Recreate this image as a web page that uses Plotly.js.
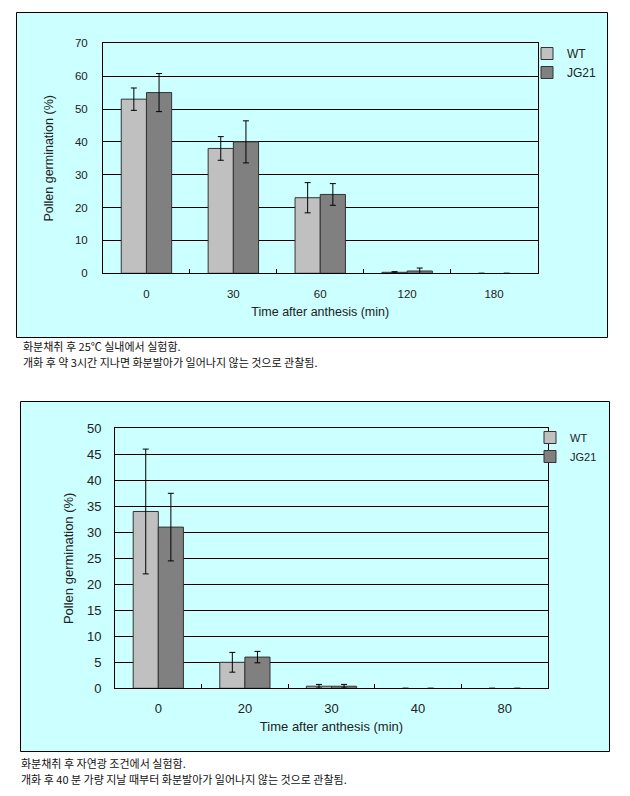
<!DOCTYPE html>
<html>
<head>
<meta charset="utf-8">
<script src="https://cdn.plot.ly/plotly-3.0.1.min.js"></script>
<style>
  html, body { margin: 0; padding: 0; background: #ffffff; }
  #chart { width: 630px; height: 796px; }
</style>
</head>
<body>
<div id="chart"></div>
<script>
// ---- Data ----
const topCats = ['0', '30', '60', '120', '180'];
const topWT = [53, 38, 23, 0.3, 0];
const topWTerr = [3.4, 3.6, 4.6, 0.2, 0];
const topJG = [55, 40, 24, 0.7, 0];
const topJGerr = [5.8, 6.4, 3.3, 0.9, 0];

const botCats = ['0', '20', '30', '40', '80'];
const botWT = [34, 5, 0.4, 0, 0];
const botWTerr = [12, 1.9, 0.35, 0, 0];
const botJG = [31, 6, 0.4, 0, 0];
const botJGerr = [6.5, 1.1, 0.35, 0, 0];

const seriesNames = ['WT', 'JG21'];
const xTitle = 'Time after anthesis (min)';
const yTitle = 'Pollen germination (%)';
const captionTop = ['화분채취 후 25℃ 실내에서 실험함.', '개화 후 약 3시간 지나면 화분발아가 일어나지 않는 것으로 관찰됨.'];
const captionBot = ['화분채취 후 자연광 조건에서 실험함.', '개화 후 40 분 가량 지날 때부터 화분발아가 일어나지 않는 것으로 관찰됨.'];

// ---- Styling ----
const W = 630, H = 796;
const px = v => v / W;
const py = v => 1 - v / H;
const colWT = '#c0c0c0', colJG = '#808080';
const lineCol = '#333333';
const latin = 'Liberation Sans, Arial, sans-serif';
const tickFont = {family: latin, size: 11.5, color: '#222'};
const tickFont2 = {family: latin, size: 13, color: '#222'};

function barTrace(name, cats, vals, errs, color, xa, ya, legend) {
  return {
    type: 'bar', name: name, x: cats, y: vals,
    xaxis: xa, yaxis: ya, legend: legend,
    marker: {color: color, line: {color: lineCol, width: vals.map(v => v > 0 ? 1 : 0)}},
    error_y: {type: 'data', array: errs, visible: true, color: '#000', thickness: 1, width: 3},
    hoverinfo: 'skip'
  };
}

const data = [
  barTrace(seriesNames[0], topCats, topWT, topWTerr, colWT, 'x', 'y', 'legend'),
  barTrace(seriesNames[1], topCats, topJG, topJGerr, colJG, 'x', 'y', 'legend'),
  barTrace(seriesNames[0], botCats, botWT, botWTerr, colWT, 'x2', 'y2', 'legend2'),
  barTrace(seriesNames[1], botCats, botJG, botJGerr, colJG, 'x2', 'y2', 'legend2')
];

const xCommon = {
  type: 'category', showline: true, linecolor: '#000', linewidth: 1, mirror: true,
  ticks: 'inside', tickson: 'boundaries', ticklen: 4, tickcolor: '#000',
  showgrid: false, zeroline: false, automargin: false, fixedrange: true
};
const yCommon = {
  showline: true, linecolor: '#000', linewidth: 1, mirror: true,
  showgrid: true, gridcolor: '#000', gridwidth: 1, zeroline: false,
  ticks: '', automargin: false, fixedrange: true
};

const captionFont = {family: 'Noto Sans CJK KR', size: 11, color: '#111'};
function caption(text, x, y) {
  return {text: text, xref: 'paper', yref: 'paper', x: px(x), y: py(y), xanchor: 'left', yanchor: 'middle',
          align: 'left', showarrow: false, font: captionFont};
}

const layout = {
  width: W, height: H,
  margin: {l: 0, r: 0, t: 0, b: 0, pad: 0},
  paper_bgcolor: '#ffffff',
  plot_bgcolor: '#ffffcc',
  barmode: 'group', bargap: 0.42, bargroupgap: 0,
  showlegend: true,
  xaxis: Object.assign({}, xCommon, {
    domain: [px(103), px(537.5)], anchor: 'y',
    tickfont: tickFont, ticklabelstandoff: 10,
    title: {text: xTitle, font: {family: latin, size: 12.5, color: '#222'}, standoff: 8}
  }),
  yaxis: Object.assign({}, yCommon, {
    domain: [py(273.3), py(43.3)], anchor: 'x',
    range: [0, 70], dtick: 10, tickfont: tickFont, ticklabelstandoff: 12,
    title: {text: yTitle, font: {family: latin, size: 12.5, color: '#222'}, standoff: 18}
  }),
  xaxis2: Object.assign({}, xCommon, {
    domain: [px(115), px(548)], anchor: 'y2',
    tickfont: tickFont2, ticklabelstandoff: 8,
    title: {text: xTitle, font: {family: latin, size: 13, color: '#222'}, standoff: 6}
  }),
  yaxis2: Object.assign({}, yCommon, {
    domain: [py(688.3), py(428.3)], anchor: 'x2',
    range: [0, 50], dtick: 5, tickfont: tickFont2, ticklabelstandoff: 10,
    title: {text: yTitle, font: {family: latin, size: 13, color: '#222'}, standoff: 10}
  }),
  legend: {
    x: px(527), y: py(39), xanchor: 'left', yanchor: 'top',
    bgcolor: 'rgba(0,0,0,0)', borderwidth: 0, tracegroupgap: 0,
    font: {family: latin, size: 12, color: '#222'}
  },
  legend2: {
    x: px(530), y: py(423), xanchor: 'left', yanchor: 'top',
    bgcolor: 'rgba(0,0,0,0)', borderwidth: 0, tracegroupgap: 0,
    font: {family: latin, size: 11, color: '#222'}
  },
  shapes: [
    {type: 'rect', xref: 'paper', yref: 'paper', x0: px(16.5), x1: px(607.5), y0: py(337.5), y1: py(12.5),
     fillcolor: '#ccffff', line: {color: '#000', width: 1}, layer: 'below'},
    {type: 'rect', xref: 'paper', yref: 'paper', x0: px(20.5), x1: px(609.5), y0: py(751.5), y1: py(401.5),
     fillcolor: '#ccffff', line: {color: '#000', width: 1}, layer: 'below'}
  ],
  annotations: [
    caption(captionTop[0], 21, 346),
    caption(captionTop[1], 21, 362),
    caption(captionBot[0], 19, 763),
    caption(captionBot[1], 19, 779)
  ]
};

Plotly.newPlot('chart', data, layout, {displayModeBar: false, staticPlot: true});
</script>
</body>
</html>
